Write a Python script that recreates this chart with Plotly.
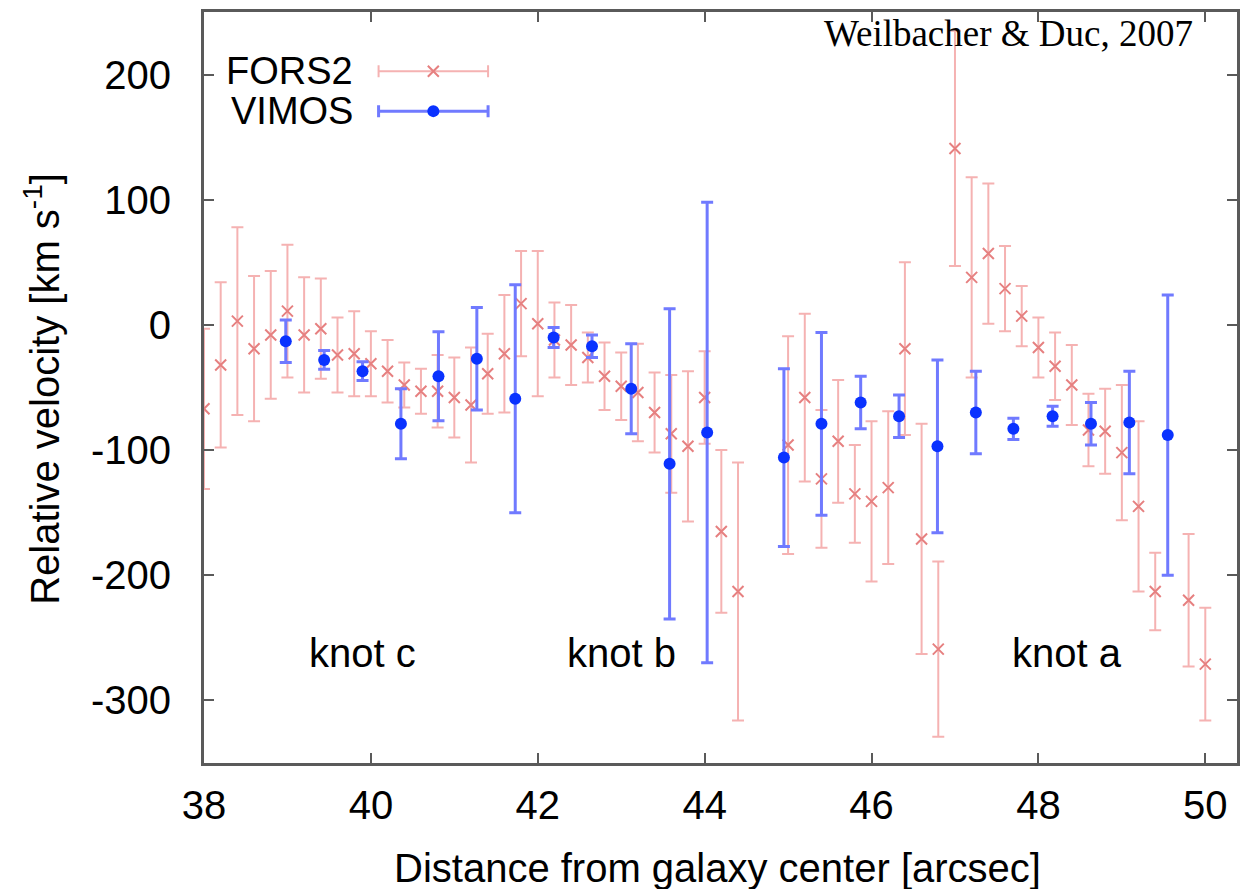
import plotly.graph_objects as go

# ---------------- data ----------------
fors2_x = [38.0, 38.2, 38.4, 38.6, 38.8, 39.0, 39.2, 39.4, 39.6, 39.8,
           40.0, 40.2, 40.4, 40.6, 40.8, 41.0, 41.2, 41.4, 41.6, 41.8,
           42.0, 42.2, 42.4, 42.6, 42.8, 43.0, 43.2, 43.4, 43.6, 43.8,
           44.0, 44.2, 44.4, 45.0, 45.2, 45.4, 45.6, 45.8, 46.0, 46.2,
           46.4, 46.6, 46.8, 47.0, 47.2, 47.4, 47.6, 47.8, 48.0, 48.2,
           48.4, 48.6, 48.8, 49.0, 49.2, 49.4, 49.8, 50.0]
fors2_v = [-67, -32, 3, -19, -8, 11, -8, -3, -24, -23,
           -31, -37, -48, -53, -53, -58, -64, -39, -23, 17,
           1, -12, -16, -26, -41, -49, -54, -70, -87, -97,
           -58, -165, -213, -96, -58, -123, -93, -135, -141, -130,
           -19, -171, -259, 141, 38, 57, 29, 7, -18, -33,
           -48, -84, -85, -102, -145, -213, -220, -271]
fors2_err = [64, 66, 75, 58, 51, 53, 46, 40, 30, 34,
             26, 25, 18, 18, 29, 32, 46, 32, 47, 42,
             58, 30, 32, 20, 27, 27, 39, 32, 47, 60,
             37, 65, 103, 87, 67, 55, 49, 39, 64, 61,
             69, 92, 70, 94, 80, 56, 34, 24, 24, 27,
             32, 29, 34, 54, 68, 31, 53, 45]

vimos_x = [38.98, 39.44, 39.90, 40.36, 40.81, 41.27, 41.73, 42.19, 42.65, 43.12,
           43.58, 44.03, 44.95, 45.40, 45.87, 46.33, 46.79, 47.25, 47.70, 48.17,
           48.63, 49.09, 49.55]
vimos_v = [-13, -28, -37, -79, -41, -27, -59, -10, -17, -51,
           -111, -86, -106, -79, -62, -73, -97, -70, -83, -73,
           -79, -78, -88]
vimos_err = [17, 7.5, 7.5, 28, 35.5, 41, 91, 8, 9, 36,
             124, 184, 71, 73, 21, 17, 69, 33, 8.5, 8,
             17, 41, 112]

x_ticks = [38, 40, 42, 44, 46, 48, 50]
x_ticktext = ["38", "40", "42", "44", "46", "48", "50"]
y_ticks = [-300, -200, -100, 0, 100, 200]
y_ticktext = ["-300", "-200", "-100", "0", "100", "200"]

knot_names = ["knot c", "knot b", "knot a"]
knot_x = [39.23, 42.33, 47.66]
knot_y = [-262, -262, -262]

series_names = ["FORS2", "VIMOS"]
key_x = [0.222, 0.222]      # key sample positions in plot-area fractions
key_y = [0.921, 0.868]
key_half = [0.053, 0.053]

# ---------------- styling ----------------
RED_BAR = "rgb(245,178,178)"
RED_MARK = "rgb(230,128,128)"
BLUE_BAR = "rgb(112,122,255)"
BLUE_MARK = "rgb(10,50,255)"
AXIS_COL = "#5a5a5a"
SANS = "Liberation Sans, Arial, Helvetica, sans-serif"
SERIF = "Liberation Serif, Times New Roman, serif"
FS = 40

fig = go.Figure()

fig.add_trace(go.Scatter(
    x=fors2_x, y=fors2_v, mode="markers", name=series_names[0],
    marker=dict(symbol="x-thin", size=11, line=dict(width=2, color=RED_MARK), color=RED_MARK),
    error_y=dict(type="data", array=fors2_err, visible=True, color=RED_BAR,
                 thickness=2, width=6),
    showlegend=False,
))
fig.add_trace(go.Scatter(
    x=vimos_x, y=vimos_v, mode="markers", name=series_names[1],
    marker=dict(symbol="circle", size=12, color=BLUE_MARK),
    error_y=dict(type="data", array=vimos_err, visible=True, color=BLUE_BAR,
                 thickness=3, width=6),
    showlegend=False,
))

# key samples (gnuplot style) on an auxiliary unit axis
fig.add_trace(go.Scatter(
    x=[key_x[0]], y=[key_y[0]], xaxis="x2", yaxis="y2", mode="markers",
    marker=dict(symbol="x-thin", size=11, line=dict(width=2, color=RED_MARK), color=RED_MARK),
    error_x=dict(type="data", array=[key_half[0]], visible=True, color=RED_BAR,
                 thickness=2, width=6),
    showlegend=False, hoverinfo="skip",
))
fig.add_trace(go.Scatter(
    x=[key_x[1]], y=[key_y[1]], xaxis="x2", yaxis="y2", mode="markers",
    marker=dict(symbol="circle", size=12, color=BLUE_MARK),
    error_x=dict(type="data", array=[key_half[1]], visible=True, color=BLUE_BAR,
                 thickness=3, width=6),
    showlegend=False, hoverinfo="skip",
))

annotations = []
for name, ky in zip(series_names, key_y):
    annotations.append(dict(text=name, xref="paper", yref="paper", x=0.146, y=ky,
                            xanchor="right", yanchor="middle", showarrow=False,
                            font=dict(family=SANS, size=38, color="black")))
for name, kx, kyv in zip(knot_names, knot_x, knot_y):
    annotations.append(dict(text=name, xref="x", yref="y", x=kx, y=kyv,
                            xanchor="left", yanchor="middle", showarrow=False,
                            font=dict(family=SANS, size=FS, color="black")))
annotations.append(dict(text="Weilbacher &amp; Duc, 2007", xref="paper", yref="paper",
                        x=0.9595, y=0.972, xanchor="right", yanchor="middle",
                        showarrow=False, font=dict(family=SERIF, size=37, color="black")))
annotations.append(dict(text="Distance from galaxy center [arcsec]", xref="paper", yref="paper",
                        x=0.497, y=-0.14, xanchor="center", yanchor="middle",
                        showarrow=False, font=dict(family=SANS, size=FS, color="black")))
annotations.append(dict(text="Relative velocity [km s<sup>-1</sup>]", xref="paper", yref="paper",
                        x=-0.157, y=0.498, xanchor="center", yanchor="middle", textangle=-90,
                        showarrow=False, font=dict(family=SANS, size=FS, color="black")))

axis_common = dict(showline=True, linecolor=AXIS_COL, linewidth=3, mirror="ticks",
                   ticks="inside", ticklen=10, tickwidth=2, tickcolor=AXIS_COL,
                   showgrid=False, zeroline=False,
                   tickfont=dict(family=SANS, size=FS, color="black"))

fig.update_layout(
    width=1242, height=889,
    margin=dict(l=204, r=2, t=12, b=126),
    paper_bgcolor="white", plot_bgcolor="white",
    xaxis=dict(range=[38, 50.38], tickvals=x_ticks, ticktext=x_ticktext,
               ticklabelstandoff=5, **axis_common),
    yaxis=dict(range=[-350, 250], tickvals=y_ticks, ticktext=y_ticktext,
               ticklabelstandoff=22, **axis_common),
    xaxis2=dict(overlaying="x", range=[0, 1], visible=False),
    yaxis2=dict(overlaying="y", range=[0, 1], visible=False),
    annotations=annotations,
    showlegend=False,
)

fig.write_html("out.html")
